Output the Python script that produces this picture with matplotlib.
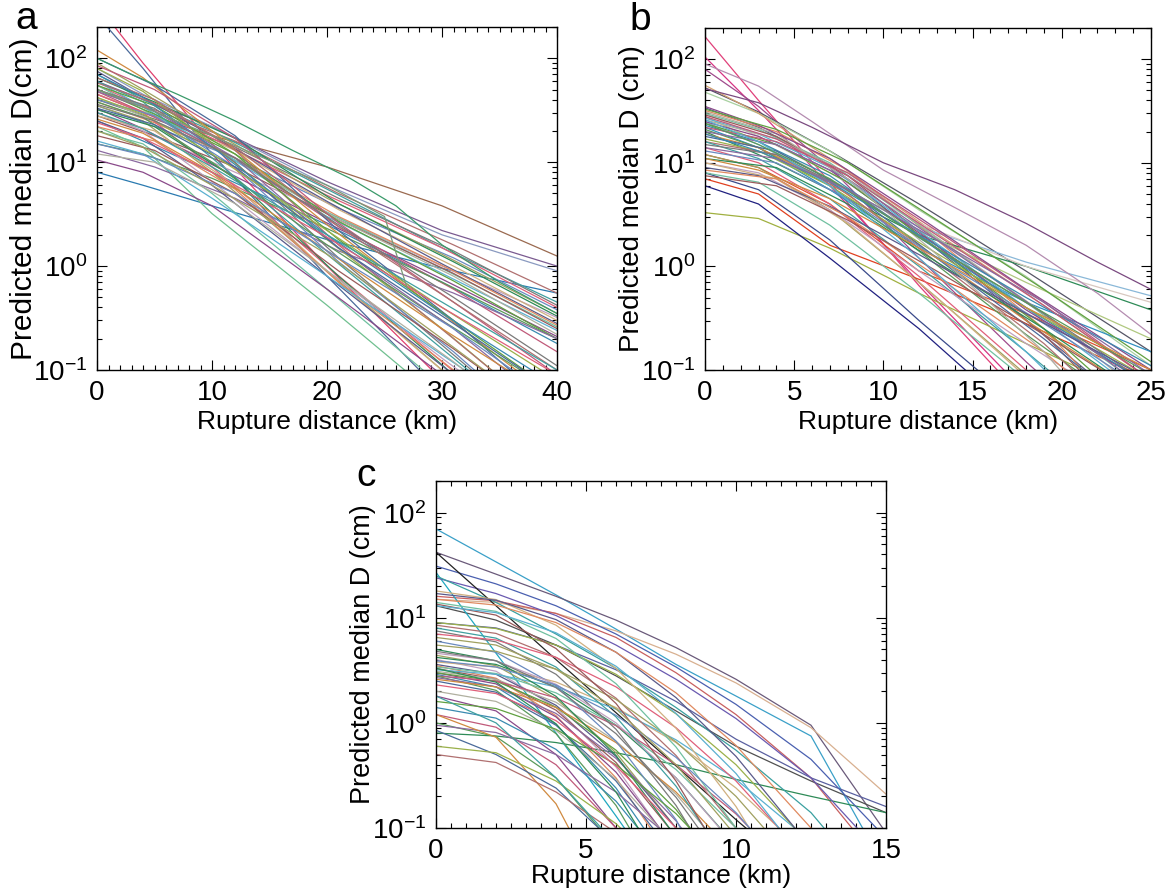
import matplotlib
matplotlib.use('Agg')
import matplotlib.pyplot as plt
from matplotlib.ticker import LogLocator, MultipleLocator, NullFormatter

plt.rcParams['font.family'] = ['Liberation Sans', 'DejaVu Sans']
plt.rcParams['mathtext.fontset'] = 'custom'
plt.rcParams['mathtext.rm'] = 'Liberation Sans'
plt.rcParams['mathtext.default'] = 'regular'

# ---------------- data ----------------
palette = ['#3a8ab0', '#c05a7a', '#5a9a5a', '#8a6aa0', '#d08a40', '#4a6a9a', '#9ab04a',
           '#b07070', '#40a0a0', '#7a7a7a', '#e0607a', '#6a8ac0', '#a0a060', '#2e8b57',
           '#c0a0c0', '#d0b080', '#5a5a8a', '#e08a60', '#70c0a0', '#9a5a5a', '#5ab0d0',
           '#b0b0a0', '#8a4a8a', '#60a040']

# panel a: knots x = 0, 4, 10, 20, 30, 40 km (alternate curves read at a_x_alt)
a_x = [0, 4, 10, 20, 30, 40]
a_x_alt = [0, 5, 12, 21, 31, 40]
a_curves = [
    [330, 90, 15, 1.0, 0.08, 0.01], [260, 80, 12, 0.8, 0.06, 0.005],
    [45, 30, 18, 9.0, 3.8, 1.25], [60, 40, 22, 6.5, 2.2, 1.0], [80, 45, 22, 6.0, 2.0, 0.9],
    [8, 6, 3.8, 1.8, 0.95, 0.55], [22, 14, 3.2, 0.42, 0.05, 0.008],
    [50, 32, 16, 5.0, 1.6, 0.55], [70, 40, 20, 5.5, 1.5, 0.45], [40, 26, 14, 4.5, 1.4, 0.42],
    [55, 35, 17, 4.8, 1.5, 0.4], [35, 22, 11, 3.6, 1.2, 0.38], [90, 50, 20, 4.5, 1.3, 0.35],
    [65, 38, 17, 4.0, 1.1, 0.33], [30, 20, 10, 3.3, 1.0, 0.32], [45, 28, 13, 3.5, 1.0, 0.3],
    [75, 42, 18, 4.2, 1.05, 0.28], [38, 24, 11, 3.0, 0.9, 0.27], [55, 32, 14, 3.3, 0.95, 0.26],
    [28, 18, 9, 2.8, 0.85, 0.25], [60, 34, 14, 3.0, 0.85, 0.24], [42, 25, 11, 2.8, 0.8, 0.22],
    [33, 21, 9.5, 2.6, 0.75, 0.21], [50, 29, 12, 2.7, 0.72, 0.2], [25, 16, 8, 2.5, 0.7, 0.18],
    [48, 27, 11, 2.4, 0.6, 0.15], [15, 12, 7, 2.3, 0.7, 0.2], [13, 9, 4.5, 1.4, 0.55, 0.2],
    [120, 65, 20, 2.5, 0.35, 0.05], [100, 55, 18, 2.2, 0.3, 0.04], [80, 48, 15, 1.8, 0.25, 0.03],
    [65, 40, 13, 1.6, 0.2, 0.03], [60, 38, 11, 1.3, 0.16, 0.02], [50, 33, 10, 1.2, 0.14, 0.02],
    [45, 30, 9, 1.0, 0.12, 0.015], [40, 28, 9, 1.1, 0.15, 0.02], [35, 25, 8, 0.9, 0.1, 0.01],
    [32, 22, 7, 0.8, 0.09, 0.01], [30, 20, 6.5, 0.9, 0.13, 0.02], [28, 20, 6, 0.7, 0.08, 0.01],
    [25, 17, 6, 0.8, 0.11, 0.015], [22, 16, 5.5, 0.7, 0.1, 0.012], [20, 15, 5, 0.6, 0.07, 0.008],
    [18, 13, 5, 0.9, 0.16, 0.03], [16, 12, 4.5, 0.8, 0.14, 0.025], [12, 10, 4, 0.75, 0.12, 0.02],
    [10.5, 8, 3.8, 0.6, 0.09, 0.01], [55, 35, 12, 1.8, 0.3, 0.06], [70, 42, 14, 2.0, 0.35, 0.07],
    [85, 50, 17, 2.6, 0.45, 0.09], [38, 27, 10, 1.6, 0.3, 0.06], [48, 31, 11, 1.5, 0.25, 0.04],
    [26, 19, 8, 1.4, 0.25, 0.05], [33, 23, 9, 1.5, 0.28, 0.06], [42, 29, 12, 2.2, 0.4, 0.08],
    [58, 37, 14, 2.4, 0.45, 0.1], [30, 21, 9, 2.0, 0.45, 0.1], [36, 25, 11, 2.5, 0.5, 0.11],
    [24, 17, 8, 1.9, 0.4, 0.09], [15, 11, 5, 1.2, 0.25, 0.05], [20, 14, 6, 1.3, 0.2, 0.03],
]
a_colors = ['#e0406e', '#4a6a9a', '#9a6a50', '#7a5a90', '#8a9ac0', '#2a7ab0', '#70c090']
a_green_x = [0, 3, 7, 12, 17, 22, 26, 30, 35, 40]
a_green_y = [100, 70, 45, 25, 13, 7.0, 3.8, 1.6, 0.7, 0.35]
a_kink_x = [0, 4, 10, 20, 25, 27]
a_kink_y = [50, 34, 18, 6.0, 3.0, 0.6]

# panel b: knots x = 0, 3, 7, 12, 18, 25 km (alternate curves read at b_x_alt)
b_x = [0, 3, 7, 12, 18, 25]
b_x_alt = [0, 4, 8, 13, 19, 25]
b_curves = [
    [165, 40, 6.5, 0.65, 0.05, 0.003], [105, 32, 6.0, 0.7, 0.06, 0.004],
    [80, 35, 9, 1.2, 0.12, 0.01], [53, 31, 13, 4.0, 0.9, 0.15],
    [48, 30, 13, 3.5, 0.8, 0.11], [56, 30, 11, 2.7, 0.55, 0.08],
    [25, 15, 6.5, 2.4, 1.1, 0.52], [20, 12, 5.5, 2.0, 1.0, 0.38],
    [30, 18, 8, 2.6, 1.0, 0.45], [28, 16, 7, 2.2, 0.7, 0.2],
    [3.3, 2.9, 1.5, 0.55, 0.18, 0.05], [7, 5.0, 1.6, 0.75, 0.28, 0.08],
    [6, 4.0, 1.2, 0.25, 0.03, 0.002], [8, 5.5, 1.8, 0.3, 0.04, 0.003],
    [22, 14, 5.5, 1.5, 0.45, 0.15], [12, 9, 4, 0.9, 0.35, 0.1],
    [34, 22, 9.5, 2.0, 0.3, 0.03], [32, 20, 8.5, 1.8, 0.25, 0.02], [30, 21, 10, 2.5, 0.45, 0.06],
    [29, 18, 7.5, 1.6, 0.22, 0.02], [27, 19, 9, 2.2, 0.4, 0.05], [26, 17, 8, 1.9, 0.35, 0.05],
    [25, 18, 8.5, 2.1, 0.38, 0.07], [24, 15, 6.5, 1.5, 0.25, 0.03], [23, 16, 7.5, 1.9, 0.4, 0.07],
    [22, 16, 8, 2.2, 0.45, 0.08], [21, 14, 6, 1.4, 0.22, 0.03], [20, 15, 7, 1.8, 0.35, 0.06],
    [19, 14, 6.5, 1.6, 0.3, 0.05], [18, 13, 5.5, 1.2, 0.2, 0.03], [17, 13, 6, 1.7, 0.4, 0.08],
    [16, 12, 5, 1.1, 0.18, 0.02], [16, 11, 4.5, 1.0, 0.15, 0.015], [15, 12, 5.5, 1.5, 0.35, 0.07],
    [14, 10, 4, 0.8, 0.1, 0.01], [13, 10, 4.5, 1.2, 0.28, 0.06], [12, 9, 3.5, 0.7, 0.09, 0.008],
    [11, 9, 4, 1.1, 0.25, 0.05], [10, 8, 3.5, 0.9, 0.18, 0.03], [10, 7, 2.6, 0.5, 0.06, 0.005],
    [9, 7.5, 3.8, 1.3, 0.35, 0.08], [8.5, 7, 3, 0.8, 0.15, 0.02], [8, 6.5, 2.5, 0.55, 0.08, 0.006],
    [7.5, 6, 2.8, 0.9, 0.22, 0.05], [26, 16, 6, 1.2, 0.15, 0.01], [31, 19, 7, 1.3, 0.15, 0.01],
    [35, 23, 11, 3.0, 0.6, 0.1], [33, 21, 10, 2.8, 0.6, 0.12], [19, 13, 6.5, 2.0, 0.5, 0.11],
    [28, 17, 7.5, 2.0, 0.42, 0.08], [24, 15, 7, 1.9, 0.45, 0.09], [14, 11, 5.5, 1.8, 0.45, 0.09],
    [11, 8.5, 4.5, 1.5, 0.4, 0.1],
]
b_colors = ['#e0407a', '#d63384', '#a04a8c', '#555566', '#a8d0a0', '#d2a070',
            '#8ab8d8', '#2e8b57', '#d8c8c0', '#b0c880', '#a0b040', '#e04020', '#202080', '#3a4a8a',
            '#3090c0', '#e05030']
b_purple_x = [0, 3, 6, 10, 14, 18, 22, 25]
b_purple_y = [52, 38, 22, 10, 5.5, 2.6, 1.1, 0.6]
b_mauve_x = [0, 3, 6, 10, 14, 18, 22, 25]
b_mauve_y = [90, 55, 25, 8.5, 3.7, 1.6, 0.55, 0.22]

# panel c: knots x = 0, 2, 4, 6, 8, 10, 12.5, 15 km
c_x = [0, 2, 4, 6, 8, 10, 12.5, 15]
c_curves = [
    [70, 34, 16.5, 7.8, 3.6, 1.8, 0.75, 0.04], [42, 26, 16, 9.5, 5.2, 2.6, 0.95, 0.09],
    [15, 14, 11, 7.5, 4.5, 2.4, 0.9, 0.21], [16, 14.5, 11, 6.5, 3.0, 1.2, 0.3, 0.04],
    [9, 8, 5.5, 3.2, 1.6, 0.7, 0.3, 0.16], [13, 9.5, 5.5, 2.8, 1.3, 0.6, 0.28, 0.14],
    [0.8, 0.75, 0.65, 0.52, 0.4, 0.29, 0.2, 0.14], [27, 4.6, 0.8, 0.13, 0.02, 0.005, 0.001, 0.001],
    [31, 21, 13, 7, 3.4, 1.5, 0.45, 0.08], [24, 17, 10.5, 5.5, 2.6, 1.1, 0.3, 0.05],
    [25, 14, 7, 3.3, 1.4, 0.55, 0.14, 0.02], [42, 13, 4.0, 1.25, 0.39, 0.12, 0.03, 0.007],
    [4.4, 3.5, 1.7, 0.52, 0.1, 0.012, 0.001, 0.001], [4.2, 3.6, 2.2, 0.95, 0.3, 0.067, 0.006, 0.001],
    [4.0, 3.1, 1.4, 0.38, 0.06, 0.005, 0.001, 0.001], [3.8, 3.4, 2.45, 1.4, 0.65, 0.24, 0.052, 0.008],
    [3.6, 2.9, 1.47, 0.48, 0.1, 0.013, 0.001, 0.001], [3.5, 2.66, 1.17, 0.3, 0.044, 0.003, 0.001, 0.001],
    [3.4, 2.95, 1.93, 0.95, 0.36, 0.1, 0.014, 0.001], [3.3, 2.6, 1.32, 0.42, 0.083, 0.01, 0.001, 0.001],
    [3.2, 2.9, 2.2, 1.35, 0.69, 0.29, 0.074, 0.014], [3.1, 2.6, 1.57, 0.67, 0.21, 0.045, 0.002, 0.001],
    [3.0, 2.35, 1.14, 0.34, 0.063, 0.005, 0.001, 0.001], [3.0, 2.5, 1.41, 0.55, 0.15, 0.027, 0.001, 0.001],
    [2.9, 2.2, 0.97, 0.24, 0.036, 0.002, 0.001, 0.001], [2.8, 2.5, 1.73, 0.94, 0.4, 0.136, 0.025, 0.001],
    [2.8, 2.04, 0.79, 0.164, 0.018, 0.001, 0.001, 0.001], [2.7, 2.2, 1.23, 0.46, 0.117, 0.02, 0.001, 0.001],
    [2.6, 2.2, 1.4, 0.65, 0.22, 0.055, 0.003, 0.001], [2.5, 1.96, 0.95, 0.28, 0.052, 0.003, 0.001, 0.001],
    [9, 7.9, 5.5, 2.9, 1.22, 0.4, 0.068, 0.005], [8.5, 7.1, 4.2, 1.72, 0.49, 0.1, 0.008, 0.001],
    [8, 6.4, 3.4, 1.14, 0.25, 0.036, 0.001, 0.001], [7.5, 5.9, 2.9, 0.87, 0.164, 0.019, 0.001, 0.001],
    [7, 6.15, 4.2, 2.2, 0.9, 0.28, 0.046, 0.003], [6, 4.7, 2.26, 0.67, 0.12, 0.01, 0.001, 0.001],
    [5.5, 4.8, 3.24, 1.67, 0.66, 0.2, 0.031, 0.001], [5, 3.9, 1.79, 0.49, 0.082, 0.006, 0.001, 0.001],
    [4.6, 3.9, 2.33, 1.0, 0.3, 0.066, 0.004, 0.001], [18, 14.9, 8.5, 3.3, 0.89, 0.16, 0.011, 0.001],
    [17, 14.7, 9.6, 4.7, 1.74, 0.48, 0.065, 0.002], [15, 13.2, 9.0, 4.7, 1.93, 0.61, 0.1, 0.011],
    [14, 11.5, 6.35, 2.36, 0.59, 0.1, 0.005, 0.001], [13.5, 10.6, 5.1, 1.53, 0.28, 0.032, 0.001, 0.001],
    [13, 11.2, 7.2, 3.46, 1.23, 0.33, 0.041, 0.002], [2.0, 1.6, 0.85, 0.29, 0.066, 0.005, 0.001, 0.001],
    [1.8, 1.3, 0.5, 0.1, 0.01, 0.001, 0.001, 0.001], [1.6, 1.37, 0.87, 0.4, 0.137, 0.034, 0.001, 0.001],
    [1.4, 1.11, 0.56, 0.18, 0.036, 0.002, 0.001, 0.001], [1.2, 0.91, 0.4, 0.1, 0.014, 0.001, 0.001, 0.001],
    [1.0, 0.74, 0.3, 0.065, 0.008, 0.001, 0.001, 0.001], [0.95, 0.81, 0.5, 0.22, 0.073, 0.01, 0.001, 0.001],
    [1.2, 0.73, 0.17, 0.014, 0.001, 0.001, 0.001, 0.001], [0.85, 0.5, 0.24, 0.07, 0.01, 0.001, 0.001, 0.001],
    [0.6, 0.52, 0.28, 0.11, 0.03, 0.004, 0.001, 0.001], [0.5, 0.42, 0.22, 0.09, 0.025, 0.003, 0.001, 0.001],
    [1.8, 1.0, 0.3, 0.07, 0.01, 0.001, 0.001, 0.001], [4.8, 3.9, 2.16, 0.79, 0.196, 0.032, 0.001, 0.001],
    [2.3, 1.9, 1.05, 0.39, 0.1, 0.017, 0.001, 0.001], [3.9, 3.4, 2.29, 1.18, 0.47, 0.14, 0.022, 0.001],
    [6.5, 5.5, 3.24, 1.36, 0.4, 0.084, 0.003, 0.001], [3.3, 2.44, 0.98, 0.22, 0.026, 0.001, 0.001, 0.001],
]
c_colors = ['#3aa0c8', '#6a5a7a', '#d8b090', '#c86060', '#5a60a0', '#505050', '#2e8b57', '#20a8c0',
            '#4a60b0', '#6a5ab0', '#3aa0a0', '#222222']

panels = [
    dict(x=a_x, x_alt=a_x_alt, curves=a_curves, colors=a_colors, xmax=40, major=10, minor=1,
         extras=[(a_green_x, a_green_y, '#3a9a6a'), (a_kink_x, a_kink_y, '#7a9a7a')],
         ylabel='Predicted median D(cm)', ylsize=21.5, letter='a',
         box=(97, 557, 27, 370), lpos=(26, 19)),
    dict(x=b_x, x_alt=b_x_alt, curves=b_curves, colors=b_colors, xmax=25, major=5, minor=1,
         extras=[(b_mauve_x, b_mauve_y, '#b48cb0'), (b_purple_x, b_purple_y, '#7a4a80')],
         ylabel='Predicted median D (cm)', ylsize=20, letter='b',
         box=(705, 1151, 28, 370), lpos=(640, 20)),
    dict(x=c_x, x_alt=c_x, curves=c_curves, colors=c_colors, xmax=15, major=5, minor=0.5, extras=[],
         ylabel='Predicted median D (cm)', ylsize=19.5, letter='c',
         box=(436, 886, 481, 828), lpos=(366, 476)),
]

W, H = 1173, 894
fig = plt.figure(figsize=(W / 100, H / 100), dpi=100)

for p in panels:
    l, r, t, b = p['box']
    ax = fig.add_axes([l / W, 1 - b / H, (r - l) / W, (b - t) / H])
    ncol = len(p['colors'])
    for i, ys in enumerate(p['curves']):
        if i < ncol:
            col, xs = p['colors'][i], p['x']
        else:
            col = palette[i % len(palette)]
            xs = p['x'] if i % 2 == 0 else p['x_alt']
        ax.plot(xs, ys, color=col, lw=0.9)
    for ex, ey, ec in p['extras']:
        ax.plot(ex, ey, color=ec, lw=0.9)
    ax.set_yscale('log')
    ax.set_xlim(0, p['xmax'])
    ax.set_ylim(0.1, 200)
    ax.set_yticks([0.1, 1, 10, 100])
    ax.yaxis.set_minor_locator(LogLocator(base=10, subs=range(2, 10), numticks=20))
    ax.yaxis.set_minor_formatter(NullFormatter())
    ax.xaxis.set_major_locator(MultipleLocator(p['major']))
    ax.xaxis.set_minor_locator(MultipleLocator(p['minor']))
    ax.tick_params(which='both', direction='in', top=True, right=True, width=0.8)
    ax.tick_params(which='major', length=7, labelsize=20, pad=7)
    ax.tick_params(which='minor', length=3.5)
    for s in ax.spines.values():
        s.set_linewidth(1.0)
    ax.set_xlabel('Rupture distance (km)', fontsize=19)
    ax.set_ylabel(p['ylabel'], fontsize=p['ylsize'])
    w, h = r - l, b - t
    ax.xaxis.set_label_coords(0.5, -(52 if p['letter'] != 'c' else 48) / h)
    ax.xaxis.label.set_va('center')
    ax.yaxis.set_label_coords(-73 / w, 0.5)
    ax.yaxis.label.set_va('center')
    fig.text(p['lpos'][0] / W, 1 - p['lpos'][1] / H, p['letter'], fontsize=28,
             ha='center', va='center')

fig.savefig('out.png', dpi=100)
